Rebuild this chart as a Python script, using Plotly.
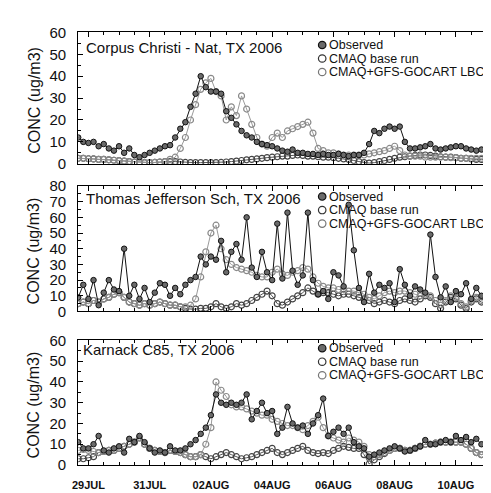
import plotly.graph_objects as go
import pandas as pd

# ---------------- data (4-hourly, starting 28 JUL 2006 16:00) ----------------
start_time = "2006-07-28 16:00"
step = "4h"
n_points = 83

p1_obs = [12,10,9.5,10,8,9,7,6,8,5, 7,4,3,4,5,6,7,8,8.5,12, 16,19,26,32,40,35,33,33,32,24,
          21,18,15,13,12,10,9,8.5,8,7, 6,5.5,6.5,5,5,4.5,4.5,4,4.5,4, 4,4.5,4,3.5,4,4,5,9,15,14,
          16,17,16,17,10,7,7,7.5,8,9, 7,6.5,7,7.5,8,8,7,6.5,6,6.5, 7,7,8]
p1_base = [2.5,2.5,2.3,2.2,2,2,1.8,1.6,1.4,1.2, 1,0.8,0.6,0.5,0.5,0.6,0.8,1,1,1,
           0.8,0.6,0.5,0.5,0.5,0.5,0.5,0.5,0.6,0.8, 1,1.2,1.5,1.8,2,2.2,2.5,2.8,3,3.2,
           3.5,3.5,3.8,4,3.8,3.5,3.5,3.2,3,3, 2.8,2.5,2.2,2,1.5,1,0.5,0.3,0.5,1,
           1.5,2,2.5,3,3.2,3.5,3.8,4,4,3.8, 3.5,3.2,3,3,2.8,2.5,2.5,2.2,2,2, 2,2.2,2.5]
p1_gocart = [2.5,2.5,2.3,2.2,2,2,1.8,1.6,1.4,1.2, 1,0.8,0.6,0.5,0.5,0.6,0.8,1,2,3,
             7,12,20,27,34,37,39,33,31,20, 26,22,31,25,18,12,9,8,12,14,
             12,15,16,17,18,19,14,7,6,5, 5,4.5,4,4,4,4,4,4.5,5,5.5,
             6,7,8,6,4,3.5,3.5,3.5,3,3, 3,3,3,2.8,2.8,2.5,2.5,2.5,2.5,2.5, 2.5,2.5,2.5]

p2_obs = [9,17,8,20,4,12,20,14,13,40, 10,17,8,15,6,12,18,17,10,15, 11,17,20,22,35,30,35,33,45,25,
          38,43,33,60,28,22,38,25,20,56, 21,63,26,17,23,63,20,11,13,8, 25,23,16,68,39,15,6,24,12,17,
          15,18,6,27,17,10,16,14,12,49, 22,9,16,6,13,11,18,8,15,10, 8,12,8]
p2_base = [5,6,5,7,6,8,9,11,12,9, 6,5,4,5,4,5,6,5,4,4, 3,2,1.5,1.5,2,2,3,5,3,2,
           3,5,4,5,7,9,11,13,10,5, 4,6,8,10,12,15,13,11,12,12, 11,10,11,11,10,9,8,7,5,6,
           7,6,5,7,8,7,6,8,10,9, 5,2,6,9,8,4,2,6,8,6, 5,4,5]
p2_gocart = [5,6,5,7,6,8,9,11,12,9, 6,5,4,5,4,5,6,5,4,4, 3,3,4,8,22,38,50,55,40,33,
             30,28,27,26,25,23,22,22,25,27, 24,23,25,26,28,27,22,18,16,15, 15,14,14,13,13,12,11,9,8,10,
             12,13,12,13,13,12,11,10,11,10, 7,4,7,10,9,5,3,7,9,7, 6,5,6]

p3_obs = [11,8,8,10,14,7,6,8,9,6, 12.6,11,14,11,8,6,7,6,9,7, 7,8,10,12,15,18,24,34,30,29,
          30,29,30,34,22,26,30,25,26,15, 18,28,20,18,19,15,20,24,32,14, 16,18,15,18,11,9,8,4,5,6,
          7,8,9,8,6.5,7,8,9,12,10, 10,11,12,11,14,12,13.5,11,12.6,10, 9,11,13]
p3_base = [3,3,3.5,4,6,6.5,7,7,8,9, 10,11,13,10,8,7,6.5,6,7,6.5, 6,5,4,4,5,4,3,4,5,6,
           5,4,3,3.5,4,5,6,7,8,6, 5,6,7,8,9,7,6,5.5,6,5.5, 7,8,9,8.5,8,8,5,0.5,2.5,4,
           5.5,7,8,8,7,7,8,9,10,10, 10.5,11,11,11,11,11,10,8,6,5, 6,7,8]
p3_gocart = [7,7.5,7,6.5,6,6.5,7,7,8,9, 10,11,13,10,8,7,6.5,6,7,6.5, 6,5,4,4,5,10,18,40,36,33,
             29,28,28,27,26,25,24,24,22,21, 20,19,19,18,17,19,21,23,18,14, 13,12,11,13,12,11,9,5,4,5,
             6,7,8,8,7,7,8,9,10,10, 10.5,11,11,11,11,11,10,8,6,5, 6,7,8]

panel_titles = ["Corpus Christi - Nat, TX 2006", "Thomas Jefferson Sch, TX 2006", "Karnack C85, TX 2006"]
series_names = ["Observed", "CMAQ base run", "CMAQ+GFS-GOCART LBC"]
y_max = [60, 80, 60]
tick_dates = ["2006-07-29", "2006-07-31", "2006-08-02", "2006-08-04", "2006-08-06", "2006-08-08", "2006-08-10"]
tick_labels = ["29JUL", "31JUL", "02AUG", "04AUG", "06AUG", "08AUG", "10AUG"]
x_range = ["2006-07-28 16:00", "2006-08-11 09:00"]

# ---------------- figure ----------------
W, H = 491, 493
times = pd.date_range(start_time, periods=n_points, freq=step)
panels = [(p1_obs, p1_base, p1_gocart), (p2_obs, p2_base, p2_gocart), (p3_obs, p3_base, p3_gocart)]
# pixel extents of each plot area (top, bottom)
pix = [(16, 152), (175, 305), (335, 464)]
x_left, x_right = 65, 490
FONT = "Liberation Sans, Arial, sans-serif"

fig = go.Figure()
for k, (obs, base, goc) in enumerate(panels):
    ax = "" if k == 0 else str(k + 1)
    fig.add_trace(go.Scatter(x=times, y=base, mode="lines+markers", xaxis="x" + ax, yaxis="y" + ax,
                             line=dict(color="#555555", width=1),
                             marker=dict(symbol="circle-open", size=6, color="#444444", line=dict(width=1.2)),
                             showlegend=False, name=series_names[1]))
    fig.add_trace(go.Scatter(x=times, y=goc, mode="lines+markers", xaxis="x" + ax, yaxis="y" + ax,
                             line=dict(color="#9a9a9a", width=1),
                             marker=dict(symbol="circle-open", size=6, color="#8a8a8a", line=dict(width=1.2)),
                             showlegend=False, name=series_names[2]))
    fig.add_trace(go.Scatter(x=times, y=obs, mode="lines+markers", xaxis="x" + ax, yaxis="y" + ax,
                             line=dict(color="#111111", width=1),
                             marker=dict(symbol="circle", size=5.5, color="#6a6a6a", line=dict(color="#111111", width=1)),
                             showlegend=False, name=series_names[0]))

layout = dict(width=W, height=H, margin=dict(l=0, r=0, t=0, b=0),
              paper_bgcolor="white", plot_bgcolor="white", showlegend=False,
              font=dict(family=FONT, color="#111111"))
annotations = []
shapes = []
for k in range(3):
    ax = "" if k == 0 else str(k + 1)
    top, bot = pix[k]
    xa = dict(domain=[x_left / W, x_right / W], range=x_range, type="date",
              anchor="y" + ax, showline=True, linecolor="black", linewidth=1, mirror="ticks",
              ticks="inside", ticklen=5, tickcolor="black", tickwidth=1,
              tickvals=tick_dates, ticktext=tick_labels, showgrid=False, zeroline=False,
              minor=dict(dtick=12 * 3600 * 1000, ticks="inside", ticklen=3, tickcolor="black", showgrid=False),
              showticklabels=(k == 2), tickfont=dict(size=11, family="Liberation Sans", weight="bold", color="#111111"),
              ticklabelstandoff=10)
    if k > 0:
        xa["matches"] = "x"
    ya = dict(domain=[1 - bot / H, 1 - top / H], range=[0, y_max[k]], anchor="x" + ax,
              showline=True, linecolor="black", linewidth=1, mirror="ticks",
              ticks="inside", ticklen=5, tickcolor="black", dtick=10, showgrid=False, zeroline=False,
              minor=dict(dtick=5, ticks="inside", ticklen=3, tickcolor="black", showgrid=False),
              tickfont=dict(size=15, family=FONT, color="#111111"), ticklabelstandoff=8)
    layout["xaxis" + ax] = xa
    layout["yaxis" + ax] = ya

    # y-axis title
    annotations.append(dict(text="CONC (ug/m3)", x=20 / W, y=1 - ((top + bot) / 2 + 2) / H,
                            xref="paper", yref="paper", textangle=-90, showarrow=False,
                            font=dict(size=16, family=FONT, color="#111111"),
                            xanchor="center", yanchor="middle"))
    # panel title
    title_pos = [(71, 32), (71, 188), (68, 344)][k]
    annotations.append(dict(text=panel_titles[k], x=title_pos[0] / W, y=1 - title_pos[1] / H,
                            xref="paper", yref="paper", showarrow=False, xanchor="left", yanchor="middle",
                            font=dict(size=15, family=FONT, color="#111111")))
    # legend
    leg_rows = [(29, 43, 57), (186, 200, 214), (343, 357, 371)][k]
    mx, tx = 312, 318
    for j, cy in enumerate(leg_rows):
        r = 3.8
        if j == 0:
            fill, edge = "#6a6a6a", "#111111"
        elif j == 1:
            fill, edge = "white", "#333333"
        else:
            fill, edge = "white", "#777777"
        shapes.append(dict(type="circle", xref="paper", yref="paper",
                           x0=(mx - r) / W, x1=(mx + r) / W, y0=1 - (cy + r) / H, y1=1 - (cy - r) / H,
                           fillcolor=fill, line=dict(color=edge, width=1.2)))
        annotations.append(dict(text=series_names[j], x=tx / W, y=1 - cy / H, xref="paper", yref="paper",
                                showarrow=False, xanchor="left", yanchor="middle", borderpad=0,
                                font=dict(size=12.5, family=FONT, color="#111111")))

layout["annotations"] = annotations
layout["shapes"] = shapes
fig.update_layout(**layout)
fig.write_html("out.html")
